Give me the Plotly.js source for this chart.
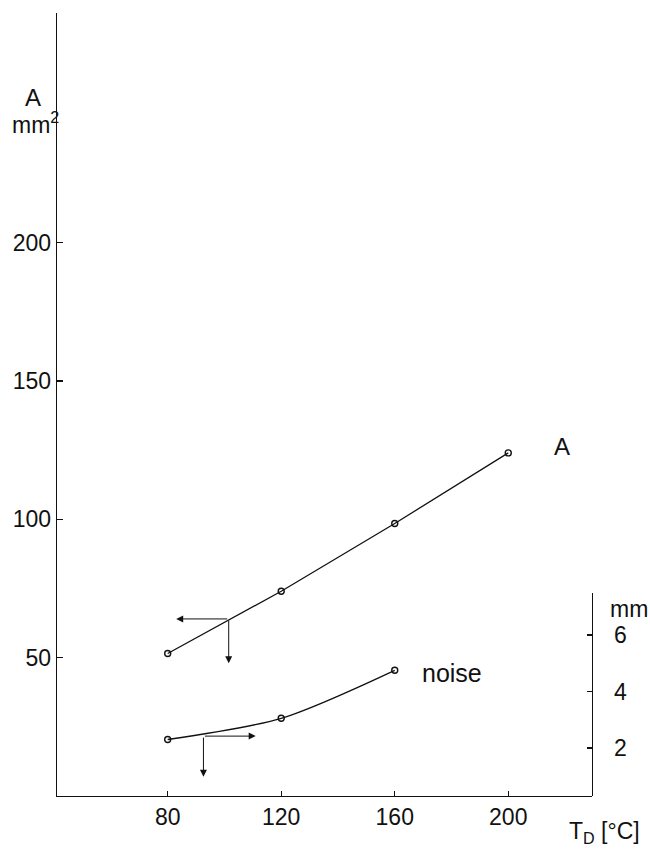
<!DOCTYPE html>
<html>
<head>
<meta charset="utf-8">
<script src="https://cdn.plot.ly/plotly-3.0.1.min.js"></script>
<style>html,body{margin:0;padding:0;background:#fff;}</style>
</head>
<body>
<div id="chart" style="width:650px;height:858px;"></div>
<script>
// Data
const tempA = [80, 120, 160, 200];          // T_D [°C]
const areaA = [51.5, 74, 98.5, 124];        // A [mm^2]
const tempNoise = [80, 120, 160];           // T_D [°C]
const noiseMM = [2.3, 3.05, 4.75];          // noise [mm]
const xTicks = [80, 120, 160, 200];
const yTicks = [50, 100, 150, 200];
const y2Ticks = [2, 4, 6];

const FONT = "Liberation Sans, Arial, sans-serif";
const ink = "#111";

const traces = [
  {
    x: tempA, y: areaA, type: "scatter", mode: "lines+markers",
    line: {color: ink, width: 1.3},
    marker: {symbol: "circle-open", size: 6, color: ink, line: {width: 1.4, color: ink}},
    xaxis: "x", yaxis: "y", hoverinfo: "skip", cliponaxis: false
  },
  {
    x: tempNoise, y: noiseMM, type: "scatter", mode: "lines+markers",
    line: {color: ink, width: 1.3, shape: "spline", smoothing: 0.8},
    marker: {symbol: "circle-open", size: 6, color: ink, line: {width: 1.4, color: ink}},
    xaxis: "x", yaxis: "y2", hoverinfo: "skip", cliponaxis: false
  }
];

function arrow(xref, yref, x, y, ax, ay) {
  return {xref: xref, yref: yref, axref: xref, ayref: yref, x: x, y: y, ax: ax, ay: ay,
    text: "", showarrow: true, arrowhead: 2, arrowsize: 1.4, arrowwidth: 1, arrowcolor: ink};
}
function label(x, y, text, size) {
  return {xref: "paper", yref: "paper", x: x, y: y, text: text, showarrow: false,
    xanchor: "center", yanchor: "middle", font: {family: FONT, size: size, color: ink}};
}

const layout = {
  width: 650, height: 858,
  margin: {l: 57, r: 58, t: 13, b: 62, pad: 0},
  paper_bgcolor: "#fff", plot_bgcolor: "rgba(0,0,0,0)",
  showlegend: false,
  font: {family: FONT, size: 23, color: ink},
  xaxis: {
    range: [41, 229.5], tickvals: xTicks, ticktext: xTicks.map(String),
    ticks: "inside", ticklen: 5, tickwidth: 1.2, tickcolor: ink,
    showline: true, linecolor: ink, linewidth: 1.3,
    showgrid: false, zeroline: false, tickfont: {family: FONT, size: 23, color: ink}
  },
  yaxis: {
    range: [0, 283], tickvals: yTicks, ticktext: yTicks.map(String),
    ticks: "inside", ticklen: 6, tickwidth: 1.2, tickcolor: ink,
    showline: true, linecolor: ink, linewidth: 1.3,
    showgrid: false, zeroline: false, tickfont: {family: FONT, size: 23, color: ink}
  },
  yaxis2: {
    anchor: "x", side: "right", domain: [0, 0.259],
    range: [0.30, 7.48], tickvals: y2Ticks, ticktext: y2Ticks.map(String),
    ticks: "inside", ticklen: 5, tickwidth: 1.2, tickcolor: ink, ticklabelstandoff: 16,
    showline: true, linecolor: ink, linewidth: 1.3,
    showgrid: false, zeroline: false, tickfont: {family: FONT, size: 23, color: ink}
  },
  annotations: [
    arrow("x", "y", 83, 64, 101.5, 64),
    arrow("x", "y", 101.5, 48, 101.5, 64),
    arrow("x", "y2", 111, 2.42, 92.6, 2.42),
    arrow("x", "y2", 92.6, 0.98, 92.6, 2.42),
    label(0.944, 0.446, "A", 24),
    label(0.738, 0.157, "noise", 25),
    label(1.024, -0.047, "T<sub>D</sub> [°C]", 23),
    label(-0.045, 0.892, "A", 24),
    label(-0.040, 0.860, "mm<sup>2</sup>", 23),
    label(1.070, 0.239, "mm", 23)
  ]
};

Plotly.newPlot("chart", traces, layout, {staticPlot: true, displayModeBar: false});
</script>
</body>
</html>
